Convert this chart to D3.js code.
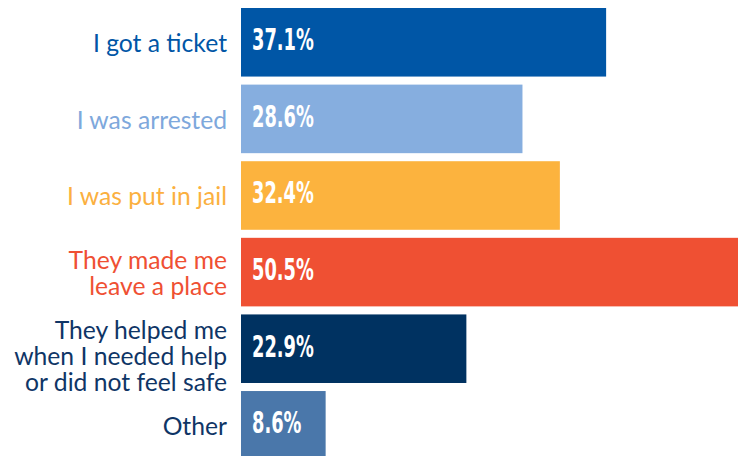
<!DOCTYPE html>
<html>
<head>
<meta charset="utf-8">
<script src="https://cdn.jsdelivr.net/npm/d3@7"></script>
<style>
  body { margin: 0; background: #fff; }
  svg { display: block; }
</style>
</head>
<body>
<div id="container"></div>
<script>
// chart data
const categories = ["I got a ticket", "I was arrested", "I was put in jail", "They made me leave a place", "They helped me when I needed help or did not feel safe", "Other"];
const labelLines = [["I got a ticket"], ["I was arrested"], ["I was put in jail"], ["They made me", "leave a place"], ["They helped me", "when I needed help", "or did not feel safe"], ["Other"]];
const values = [37.1, 28.6, 32.4, 50.5, 22.9, 8.6];
const barColors = ["#0056a6", "#86aedf", "#fcb33e", "#ef5033", "#003261", "#4a77aa"];
const labelColors = ["#0056a6", "#7ea8dc", "#fbb03f", "#ef5033", "#0f3566", "#0f3566"];

const width = 743;
const height = 456;
const left = 241;

const svg = d3.select("#container")
  .append("svg")
  .attr("width", width)
  .attr("height", height);

const x = d3.scaleLinear()
  .domain([0, 50.5])
  .range([left, 738]);

const y = d3.scaleBand()
  .domain(categories)
  .range([8, 459.6])
  .paddingInner(0.105)
  .paddingOuter(0);

svg.selectAll(".bar")
  .data(categories)
  .enter()
  .append("rect")
  .attr("class", "bar")
  .attr("x", x(0))
  .attr("y", d => y(d))
  .attr("width", (d, i) => x(values[i]) - x(0))
  .attr("height", y.bandwidth())
  .attr("fill", (d, i) => barColors[i]);

// value labels inside bars (condensed look)
svg.selectAll(".val")
  .data(categories)
  .enter()
  .append("text")
  .attr("class", "val")
  .attr("transform", d => `translate(${x(0) + 11},${y(d) + y.bandwidth() / 2 + 8}) scale(0.66,1)`)
  .attr("fill", "#fff")
  .style("font-family", "'DejaVu Sans Condensed', 'DejaVu Sans', sans-serif")
  .style("font-weight", "bold")
  .style("font-size", "30px")
  .text((d, i) => values[i].toFixed(1) + "%");

// category labels
const lineH = 26;
const labels = svg.selectAll(".lab")
  .data(categories)
  .enter()
  .append("text")
  .attr("class", "lab")
  .attr("text-anchor", "end")
  .attr("fill", (d, i) => labelColors[i])
  .style("font-family", "Lato, 'Open Sans', sans-serif")
  .style("font-size", "24.7px");

labels.each(function(d, i) {
  const lines = labelLines[i];
  const cy = y(d) + y.bandwidth() / 2;
  const shift = lines.length > 2 ? 16 : 10;
  const first = cy - (lines.length - 1) * lineH / 2 + shift;
  d3.select(this).selectAll("tspan")
    .data(lines)
    .enter()
    .append("tspan")
    .attr("x", 227)
    .attr("y", (t, j) => first + j * lineH)
    .text(t => t);
});
</script>
</body>
</html>
